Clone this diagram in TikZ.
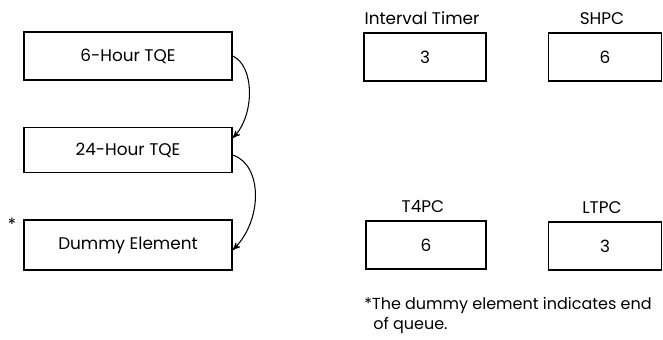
\documentclass[tikz,border=0pt]{standalone}
\usepackage{fontspec}
\setmainfont{Poppins}
\usetikzlibrary{calc}
\usetikzlibrary{arrows}

\begin{document}
\begin{tikzpicture}[x=0.02cm, y=-0.02cm, >=stealth',
  every node/.style={font=\fontsize{9.6}{11}\selectfont},
  elem/.style={draw, line width=.9pt, minimum width=4.16cm, minimum height=.96cm, inner sep=0},
  counter/.style={draw, line width=.9pt, minimum height=.96cm, inner sep=0},
  note/.style={anchor=base west, inner sep=0, font=\fontsize{9.1}{11}\selectfont}]
\useasboundingbox (0,0) rectangle (663,339);
\node[elem] (hr6) at (128,56) {6-Hour TQE};
\node[elem, minimum height=.9cm] (hr24) at (128,150) {24-Hour TQE};
\node[elem, minimum height=1cm] (dummy) at (128,245) {Dummy Element};
\node (star) at (12,224) {*};
\draw[->, line width=.6pt] (hr6.east) .. controls +(22,10) and +(22,-23) .. ($(hr24.east)+(0,-12)$);
\draw[->, line width=.6pt] ($(hr24.east)+(0,5)$) .. controls +(30,10) and +(30,-30) .. ($(dummy.east)+(0,5)$);
\foreach \name/\lbl/\val/\x/\y/\w in {itimer/Interval Timer/3/425/57/2.44cm, shpc/SHPC/6/605/57/2.26cm,
  tfourpc/T4PC/6/426/245/2.4cm, ltpc/LTPC/3/605/246/2.26cm} {
 \node[counter, minimum width=\w] (\name) at (\x,\y) {\val};
 \node[anchor=base] (\name lbl) at ($(\name.north)+(-3,-8)$) {\lbl};
}
\node[note] (note1) at (364,309) {*The dummy element indicates end};
\node[note] (note2) at (373,329) {of queue.};
\end{tikzpicture}
\end{document}
